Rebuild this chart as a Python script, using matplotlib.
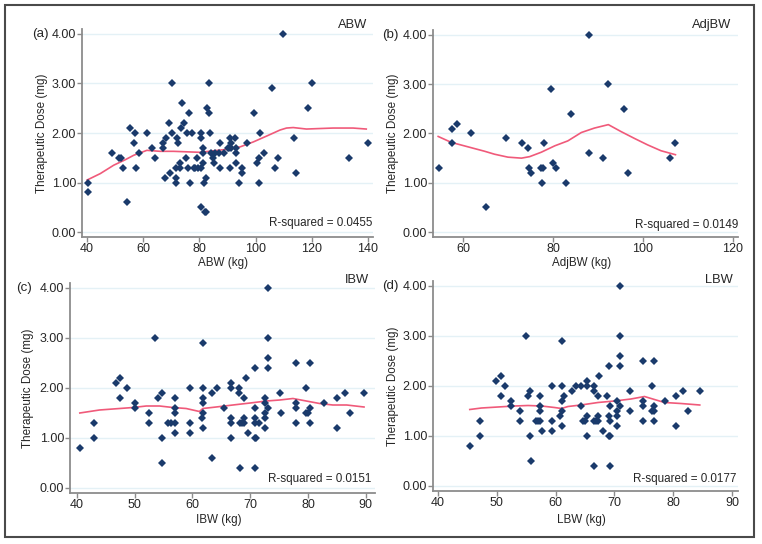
import matplotlib
matplotlib.use('Agg')
import matplotlib.pyplot as plt
from matplotlib.patches import Rectangle

plt.rcParams['font.family'] = ['Liberation Sans', 'DejaVu Sans']

W, H = 762, 544

# ---- data ----
abw_x = [40.4, 40.4, 48.8, 51.4, 52.1, 52.8, 54.1, 55.4, 56.7, 57.2, 57.5, 58.4, 61.5, 63.1, 64.2,
         66.9, 67.2, 68.0, 67.8, 69.2, 69.6, 70.3, 70.4, 71.6, 71.7, 71.7, 72.1, 72.5, 73.1, 73.2,
         73.4, 73.7, 74.5, 75.1, 75.5, 76.0, 76.2, 76.5, 77.2, 77.9, 78.5, 79.1, 79.5, 80.5, 80.5,
         80.6, 80.6, 81.1, 81.1, 81.2, 81.8, 81.9, 82.4, 82.3, 82.7, 83.4, 83.5, 83.9, 84.3, 84.8,
         85.2, 85.5, 86.8, 87.3, 87.3, 88.8, 90.0, 90.5, 90.8, 91.0, 91.1, 91.2, 92.8, 92.9, 92.9,
         93.0, 94.0, 95.0, 95.0, 96.8, 99.4, 100.4, 101.1, 101.2, 101.4, 103.1, 105.8, 107.0, 107.9,
         109.8, 113.7, 114.3, 118.7, 120.2, 133.4, 140.0]
abw_y = [1.0, 0.8, 1.6, 1.5, 1.5, 1.3, 0.6, 2.1, 1.8, 2.0, 1.3, 1.6, 2.0, 1.7, 1.5,
         1.7, 1.8, 1.9, 1.1, 2.2, 1.2, 2.0, 3.0, 1.3, 1.1, 1.0, 1.9, 1.8, 1.4, 1.3,
         2.1, 2.6, 2.2, 1.5, 2.0, 1.3, 2.4, 1.0, 2.0, 1.3, 1.3, 1.5, 1.3, 1.3, 0.5,
         2.0, 1.9, 1.7, 1.6, 1.4, 1.0, 0.4, 0.4, 1.1, 2.5, 3.0, 2.4, 2.0, 1.6, 1.5,
         1.4, 1.6, 1.6, 1.8, 1.3, 1.6, 1.7, 1.7, 1.9, 1.3, 1.8, 1.7, 1.9, 1.6, 1.4,
         1.7, 1.0, 1.3, 1.2, 1.8, 2.4, 1.4, 1.0, 1.5, 2.0, 1.6, 2.9, 1.3, 1.5,
         4.0, 1.9, 1.2, 2.5, 3.0, 1.5, 1.8]
abw_fit_x = [40, 44.7, 49.5, 53.6, 56.6, 61.3, 66, 70.8, 75.5, 80.2, 85, 89.7, 94.5, 99.2,
             104, 108.7, 111, 113.4, 118.1, 122.8, 127.6, 134.7, 139.4]
abw_fit_y = [1.05, 1.18, 1.35, 1.46, 1.55, 1.65, 1.63, 1.63, 1.62, 1.61, 1.64, 1.67, 1.72, 1.82,
             1.94, 2.06, 2.10, 2.11, 2.08, 2.09, 2.10, 2.10, 2.08]

adj_x = [54.6, 57.6, 57.6, 58.6, 61.7, 65.2, 69.5, 73.2, 74.4, 74.6, 75.2, 77.3, 77.8, 77.5,
         77.9, 79.6, 80.1, 80.7, 82.9, 83.9, 88.1, 88.1, 91.2, 92.3, 95.8, 96.7, 106.0, 107.2]
adj_y = [1.3, 2.1, 1.8, 2.2, 2.0, 0.5, 1.9, 1.8, 1.7, 1.3, 1.2, 1.3, 1.3, 1.0,
         1.8, 2.9, 1.4, 1.3, 1.0, 2.4, 4.0, 1.6, 1.5, 3.0, 2.5, 1.2, 1.5, 1.8]
adj_fit_x = [54.5, 57.4, 61.1, 64.8, 67.0, 70, 73, 74.8, 77.4, 80.4, 83.3, 86.3, 89.2, 92.3,
             95.1, 98.1, 101, 104, 107.2]
adj_fit_y = [1.94, 1.82, 1.73, 1.64, 1.58, 1.52, 1.50, 1.53, 1.62, 1.75, 1.85, 2.02, 2.11, 2.18,
             2.04, 1.90, 1.77, 1.65, 1.57]

ibw_x = [40.5, 42.9, 42.9, 46.7, 47.5, 47.5, 48.7, 50.0, 50.0, 52.4, 52.4, 53.5, 54.1, 54.7,
         54.7, 54.7, 55.8, 56.2, 57.0, 57.0, 57.0, 57.0, 57.0, 59.5, 59.5, 59.5, 61.6, 61.9,
         61.9, 61.9, 61.9, 61.9, 61.9, 63.3, 63.4, 64.2, 65.4, 66.6, 66.6, 66.6, 66.6, 66.6,
         68.1, 68.1, 68.2, 68.5, 68.2, 68.9, 69.0, 69.0, 69.2, 69.6, 70.8, 70.8, 70.8, 70.8,
         70.8, 71.0, 70.8, 71.6, 72.6, 72.6, 72.6, 72.6, 72.6, 73.1, 73.1, 73.1, 73.1, 73.1,
         75.1, 75.4, 77.9, 78.0, 78.0, 78.0, 79.7, 79.7, 80.0, 80.3, 80.3, 80.3, 82.7, 85.0,
         85.0, 86.4, 87.3, 89.7]
ibw_y = [0.8, 1.3, 1.0, 2.1, 2.2, 1.8, 2.0, 1.7, 1.6, 1.5, 1.3, 3.0, 1.8, 1.9,
         1.0, 0.5, 1.3, 1.3, 1.8, 1.6, 1.5, 1.3, 1.1, 2.0, 1.3, 1.1, 1.4, 2.0,
         1.8, 1.7, 1.5, 1.2, 2.9, 1.9, 0.6, 2.0, 1.6, 2.1, 2.0, 1.4, 1.3, 1.0,
         2.0, 1.9, 1.3, 1.3, 0.4, 1.8, 1.4, 1.3, 2.2, 1.1, 2.4, 1.6, 1.4, 1.3,
         1.0, 1.0, 0.4, 1.3, 1.2, 1.4, 1.5, 1.7, 1.8, 4.0, 3.0, 2.6, 2.4, 1.6,
         1.9, 1.5, 2.5, 1.7, 1.6, 1.3, 2.0, 1.5, 1.5, 2.5, 1.6, 1.3, 1.7, 1.8,
         1.2, 1.9, 1.5, 1.9]
ibw_fit_x = [40.5, 43.9, 47.4, 49.7, 52, 54.3, 56.6, 58.9, 61.2, 61.8, 64.1, 67, 70, 72.8,
             75.1, 77.4, 79.7, 82, 84.3, 86.7, 89.7]
ibw_fit_y = [1.50, 1.56, 1.59, 1.61, 1.64, 1.64, 1.61, 1.59, 1.53, 1.59, 1.62, 1.66, 1.70, 1.74,
             1.76, 1.79, 1.74, 1.69, 1.66, 1.66, 1.62]

lbw_x = [45.4, 47.2, 47.2, 49.9, 50.7, 50.7, 51.4, 52.4, 52.4, 54.0, 54.0, 54.9, 55.3, 55.7,
         55.7, 55.8, 56.6, 57.0, 57.4, 57.4, 57.4, 57.4, 57.7, 59.3, 59.3, 59.3, 60.7, 61.0,
         61.0, 61.0, 61.0, 61.0, 61.5, 62.7, 63.4, 64.3, 64.3, 64.7, 65.0, 65.3, 65.3, 65.3,
         65.3, 66.6, 66.6, 66.6, 66.9, 67.2, 66.6, 67.2, 67.2, 67.4, 68.1, 68.8, 69.0, 69.3,
         69.1, 69.2, 69.1, 69.2, 69.2, 70.4, 70.4, 70.4, 70.4, 71.0, 71.0, 71.0, 71.0, 71.0,
         72.6, 72.7, 74.9, 74.9, 74.9, 74.9, 76.4, 76.4, 76.7, 76.8, 76.8, 76.8, 78.6, 80.5,
         80.5, 81.7, 82.5, 84.5]
lbw_y = [0.8, 1.3, 1.0, 2.1, 2.2, 1.8, 2.0, 1.7, 1.6, 1.5, 1.3, 3.0, 1.8, 1.9,
         1.0, 0.5, 1.3, 1.3, 1.8, 1.6, 1.5, 1.3, 1.1, 2.0, 1.3, 1.1, 1.4, 2.0,
         2.9, 1.7, 1.5, 1.2, 1.8, 1.9, 2.0, 2.0, 1.6, 1.3, 1.3, 2.1, 2.0, 1.4,
         1.0, 2.0, 1.9, 1.3, 1.3, 1.3, 0.4, 1.8, 1.4, 2.2, 1.1, 1.8, 1.0, 1.0,
         2.4, 1.6, 1.4, 1.3, 0.4, 1.7, 1.5, 1.4, 1.2, 4.0, 3.0, 2.6, 2.4, 1.6,
         1.9, 1.5, 2.5, 1.7, 1.6, 1.3, 2.0, 1.5, 1.5, 2.5, 1.6, 1.3, 1.7, 1.8,
         1.2, 1.9, 1.5, 1.9]
lbw_fit_x = [45.4, 47.4, 50.2, 53.0, 55.3, 57.6, 59.8, 61.0, 62.1, 64.3, 67.2, 70, 72.8, 75.1,
             76.8, 78.5, 81.3, 84.5]
lbw_fit_y = [1.53, 1.56, 1.58, 1.60, 1.61, 1.60, 1.57, 1.55, 1.59, 1.62, 1.67, 1.70, 1.74, 1.79,
             1.73, 1.67, 1.65, 1.62]

panels = [
    # x, y, fit x, fit y, name, letter, r2, xticks
    (abw_x, abw_y, abw_fit_x, abw_fit_y, 'ABW', '(a)', '0.0455', [40, 60, 80, 100, 120, 140]),
    (adj_x, adj_y, adj_fit_x, adj_fit_y, 'AdjBW', '(b)', '0.0149', [60, 80, 100, 120]),
    (ibw_x, ibw_y, ibw_fit_x, ibw_fit_y, 'IBW', '(c)', '0.0151', [40, 50, 60, 70, 80, 90]),
    (lbw_x, lbw_y, lbw_fit_x, lbw_fit_y, 'LBW', '(d)', '0.0177', [40, 50, 60, 70, 80, 90]),
]

# layout in pixels: left, right, top, bottom, xlim
boxes = [
    (82, 373, 29, 237, (38.2, 141.8)),
    (433, 738, 30, 237, (53.35, 121.1)),
    (70, 375, 283, 493, (38.8, 91.6)),
    (433, 738, 281, 491, (39.15, 91.0)),
]
# text positions in pixels
title_pos = [(367, 25), (731, 25), (369, 280), (733, 280)]
letter_pos = [(32, 34), (382, 35), (16, 288), (382, 286)]
r2_pos = [(372, 223), (738, 225), (371, 479), (736, 479)]
ylab_x = [42, 393, 28, 393]
xlab_y = [263, 263, 520, 520]

navy = '#1a3a6b'
pink = '#f05a7a'
txt = '#262626'

fig = plt.figure(figsize=(W / 100, H / 100), dpi=100)

def fx(px):
    return px / W

def fy(py):
    return 1 - py / H

for i, (x, y, fxs, fys, name, letter, r2, xt) in enumerate(panels):
    l, r, t, b, xl = boxes[i]
    ax = fig.add_axes([fx(l), fy(b), (r - l) / W, (b - t) / H])
    for yy in [0, 1, 2, 3, 4]:
        ax.axhline(yy, color='#e4f1f6', lw=1.0, zorder=0)
    ax.plot(fxs, fys, color=pink, lw=1.2, zorder=2)
    ax.plot(x, y, 'D', color=navy, markersize=3.8, markeredgewidth=0, zorder=3)
    ax.set_xlim(*xl)
    ax.set_ylim(-0.1, 4.1)
    ax.set_yticks([0, 1, 2, 3, 4])
    ax.set_yticklabels(['0.00', '1.00', '2.00', '3.00', '4.00'])
    ax.set_xticks(xt)
    for s in ['top', 'right']:
        ax.spines[s].set_visible(False)
    for s in ['left', 'bottom']:
        ax.spines[s].set_color('#8c8c8c')
        ax.spines[s].set_linewidth(1.3)
    ax.tick_params(colors='#8c8c8c', labelcolor=txt, labelsize=9, length=3.5, width=1, pad=0.8)
    ax.patch.set_visible(False)

    fig.text(fx(title_pos[i][0]), fy(title_pos[i][1]), name, ha='right', va='center',
             fontsize=9.3, color=txt)
    fig.text(fx(letter_pos[i][0]), fy(letter_pos[i][1]), letter, ha='left', va='center',
             fontsize=9.6, color=txt)
    fig.text(fx(r2_pos[i][0]), fy(r2_pos[i][1]), 'R-squared = ' + r2, ha='right', va='center',
             fontsize=8.4, color=txt)
    fig.text(fx(ylab_x[i]), fy((t + b) / 2), 'Therapeutic Dose (mg)', rotation=90,
             ha='center', va='center', fontsize=8.4, color=txt)
    fig.text(fx((l + r) / 2 - 4), fy(xlab_y[i]), name + ' (kg)', ha='center', va='center',
             fontsize=8.4, color=txt)

fig.patches.append(Rectangle((fx(5), fy(537)), (754 - 5) / W, (537 - 5) / H,
                             transform=fig.transFigure, fill=False,
                             edgecolor='#4a4a4a', lw=1.5))

fig.savefig('out.png', dpi=100)
